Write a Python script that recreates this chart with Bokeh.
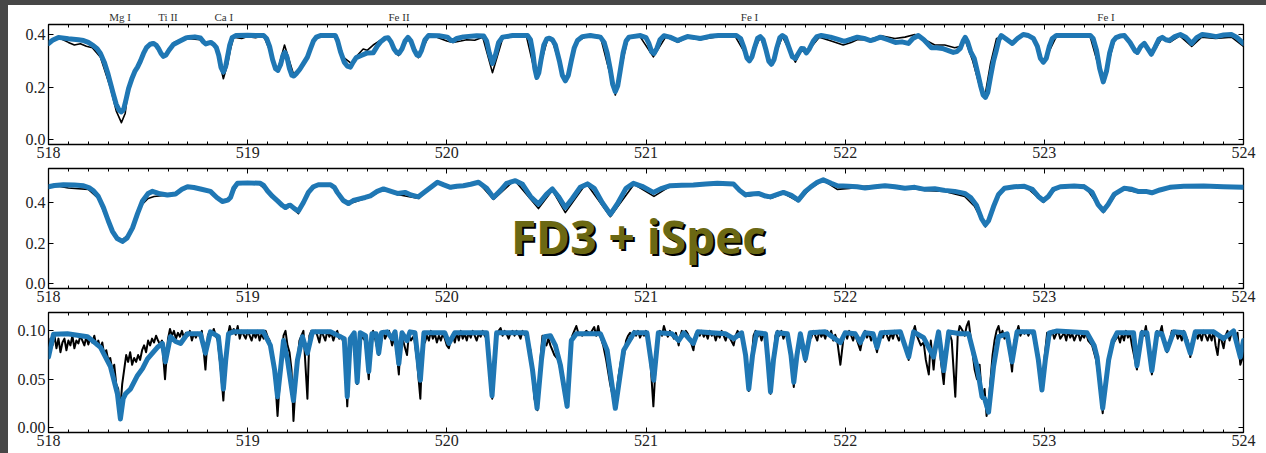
from bokeh.plotting import figure
from bokeh.layouts import column, row
from bokeh.models import Range1d, LinearAxis, FixedTicker, Label, CustomJSTickFormatter, PrintfTickFormatter, Div
from bokeh.embed import file_html
from bokeh.resources import INLINE

# ---------------- data ----------------
X_MAJOR = [518, 519, 520, 521, 522, 523, 524]
X_MINOR = [518 + i / 10 for i in range(61) if i % 10]
LINE_NAMES = ["Mg I", "Ti II", "Ca I", "Fe II", "Fe I", "Fe I"]
LINE_WL = [518.36, 518.60, 518.88, 519.76, 521.52, 523.31]

P1_YTICKS = [0.0, 0.2, 0.4]
P2_YTICKS = [0.0, 0.2, 0.4]
P3_YTICKS = [0.0, 0.05, 0.10]

P1_MODEL = [
    (518.000, 0.366), (518.020, 0.378), (518.050, 0.389), (518.100, 0.384), (518.150, 0.380),
    (518.176, 0.377), (518.200, 0.370), (518.225, 0.358), (518.245, 0.345), (518.261, 0.328),
    (518.280, 0.295), (518.297, 0.255), (518.311, 0.215), (518.325, 0.175), (518.340, 0.135),
    (518.355, 0.112), (518.366, 0.106), (518.377, 0.115), (518.390, 0.155), (518.402, 0.195),
    (518.420, 0.235), (518.435, 0.262), (518.447, 0.276), (518.462, 0.300), (518.477, 0.328),
    (518.492, 0.350), (518.510, 0.363), (518.527, 0.366), (518.540, 0.360), (518.552, 0.347),
    (518.565, 0.328), (518.577, 0.317), (518.590, 0.322), (518.605, 0.340), (518.627, 0.362),
    (518.660, 0.375), (518.690, 0.387), (518.703, 0.389), (518.735, 0.391), (518.763, 0.387),
    (518.778, 0.372), (518.790, 0.364), (518.805, 0.368), (518.815, 0.370), (518.830, 0.362),
    (518.843, 0.350), (518.855, 0.320), (518.866, 0.275), (518.878, 0.257), (518.890, 0.280),
    (518.900, 0.320), (518.910, 0.360), (518.922, 0.388), (518.940, 0.396), (519.000, 0.397),
    (519.080, 0.396), (519.095, 0.385), (519.110, 0.355), (519.125, 0.305), (519.140, 0.270),
    (519.152, 0.264), (519.165, 0.285), (519.177, 0.320), (519.187, 0.332), (519.197, 0.315),
    (519.210, 0.270), (519.222, 0.245), (519.232, 0.242), (519.245, 0.252), (519.262, 0.268),
    (519.282, 0.292), (519.300, 0.314), (519.315, 0.345), (519.330, 0.375), (519.345, 0.390),
    (519.365, 0.396), (519.440, 0.396), (519.452, 0.375), (519.466, 0.335), (519.485, 0.295),
    (519.500, 0.280), (519.516, 0.276), (519.530, 0.295), (519.545, 0.312), (519.570, 0.320),
    (519.601, 0.330), (519.631, 0.331), (519.650, 0.355), (519.667, 0.372), (519.690, 0.386),
    (519.705, 0.388), (519.720, 0.372), (519.735, 0.345), (519.750, 0.330), (519.760, 0.328),
    (519.775, 0.345), (519.790, 0.375), (519.805, 0.389), (519.820, 0.375), (519.837, 0.340),
    (519.850, 0.322), (519.860, 0.320), (519.873, 0.340), (519.890, 0.380), (519.908, 0.396),
    (519.960, 0.395), (520.003, 0.390), (520.020, 0.378), (520.032, 0.376), (520.050, 0.385),
    (520.083, 0.391), (520.150, 0.395), (520.185, 0.394), (520.200, 0.375), (520.213, 0.330),
    (520.229, 0.290), (520.245, 0.325), (520.260, 0.370), (520.280, 0.390), (520.330, 0.396),
    (520.405, 0.396), (520.420, 0.380), (520.432, 0.330), (520.442, 0.270), (520.452, 0.237),
    (520.462, 0.255), (520.472, 0.300), (520.487, 0.360), (520.502, 0.383), (520.515, 0.386),
    (520.530, 0.380), (520.545, 0.360), (520.565, 0.300), (520.580, 0.245), (520.595, 0.224),
    (520.610, 0.245), (520.625, 0.300), (520.640, 0.350), (520.656, 0.377), (520.680, 0.392),
    (520.720, 0.396), (520.771, 0.390), (520.790, 0.370), (520.805, 0.330), (520.820, 0.270),
    (520.833, 0.210), (520.846, 0.183), (520.858, 0.205), (520.870, 0.260), (520.885, 0.330),
    (520.900, 0.375), (520.915, 0.390), (520.972, 0.396), (521.000, 0.388), (521.015, 0.365),
    (521.028, 0.335), (521.040, 0.328), (521.055, 0.348), (521.070, 0.380), (521.090, 0.395),
    (521.120, 0.390), (521.158, 0.377), (521.185, 0.385), (521.208, 0.392), (521.240, 0.389),
    (521.273, 0.385), (521.320, 0.393), (521.363, 0.396), (521.454, 0.396), (521.475, 0.385),
    (521.492, 0.350), (521.507, 0.310), (521.519, 0.300), (521.532, 0.315), (521.545, 0.350),
    (521.560, 0.385), (521.574, 0.392), (521.588, 0.380), (521.603, 0.340), (521.617, 0.298),
    (521.630, 0.287), (521.643, 0.305), (521.657, 0.350), (521.672, 0.388), (521.685, 0.396),
    (521.700, 0.388), (521.718, 0.350), (521.735, 0.315), (521.750, 0.309), (521.765, 0.328),
    (521.780, 0.347), (521.792, 0.346), (521.805, 0.330), (521.820, 0.345), (521.840, 0.375),
    (521.858, 0.392), (521.880, 0.396), (521.926, 0.390), (521.960, 0.382), (521.996, 0.374),
    (522.030, 0.382), (522.061, 0.390), (522.095, 0.385), (522.127, 0.377), (522.150, 0.382),
    (522.177, 0.390), (522.215, 0.380), (522.252, 0.370), (522.285, 0.372), (522.317, 0.366),
    (522.340, 0.385), (522.367, 0.396), (522.395, 0.380), (522.433, 0.350), (522.460, 0.350),
    (522.488, 0.347), (522.515, 0.340), (522.543, 0.332), (522.560, 0.335), (522.578, 0.347),
    (522.592, 0.375), (522.603, 0.389), (522.615, 0.372), (522.630, 0.335), (522.648, 0.309),
    (522.665, 0.255), (522.680, 0.205), (522.693, 0.170), (522.704, 0.161), (522.716, 0.180),
    (522.730, 0.240), (522.745, 0.300), (522.759, 0.340), (522.772, 0.380), (522.784, 0.396),
    (522.805, 0.385), (522.839, 0.366), (522.865, 0.385), (522.894, 0.400), (522.920, 0.396),
    (522.945, 0.385), (522.965, 0.355), (522.980, 0.310), (522.995, 0.295), (523.010, 0.310),
    (523.025, 0.355), (523.040, 0.385), (523.060, 0.396), (523.231, 0.396), (523.245, 0.385),
    (523.262, 0.340), (523.278, 0.270), (523.296, 0.220), (523.312, 0.260), (523.328, 0.330),
    (523.345, 0.375), (523.360, 0.388), (523.380, 0.394), (523.402, 0.396), (523.430, 0.370),
    (523.455, 0.338), (523.467, 0.332), (523.485, 0.355), (523.502, 0.366), (523.520, 0.345),
    (523.537, 0.325), (523.555, 0.350), (523.575, 0.382), (523.592, 0.389), (523.610, 0.380),
    (523.628, 0.377), (523.655, 0.392), (523.683, 0.400), (523.710, 0.390), (523.740, 0.366),
    (523.765, 0.388), (523.793, 0.400), (523.830, 0.396), (523.863, 0.392), (523.900, 0.398),
    (523.939, 0.400), (523.965, 0.390), (524.000, 0.366),
]

P1_OBS = [
    (518.00, 0.362), (518.03, 0.380), (518.06, 0.385), (518.10, 0.370), (518.13, 0.360),
    (518.16, 0.365), (518.19, 0.355), (518.22, 0.350), (518.26, 0.315), (518.31, 0.200),
    (518.34, 0.110), (518.366, 0.065), (518.385, 0.100), (518.40, 0.190), (518.45, 0.280),
    (518.48, 0.335), (518.52, 0.370), (518.55, 0.350), (518.577, 0.315), (518.60, 0.330),
    (518.63, 0.370), (518.66, 0.380), (518.70, 0.385), (518.76, 0.380), (518.79, 0.360),
    (518.81, 0.370), (518.84, 0.355), (518.86, 0.290), (518.878, 0.232), (518.90, 0.290),
    (518.914, 0.345), (518.93, 0.390), (518.97, 0.385), (519.00, 0.392), (519.04, 0.388),
    (519.08, 0.395), (519.11, 0.340), (519.15, 0.262), (519.185, 0.360), (519.23, 0.250),
    (519.265, 0.275), (519.30, 0.320), (519.34, 0.385), (519.37, 0.400), (519.44, 0.390),
    (519.47, 0.320), (519.52, 0.290), (519.55, 0.320), (519.58, 0.345), (519.60, 0.340),
    (519.63, 0.360), (519.66, 0.375), (519.70, 0.390), (519.757, 0.320), (519.81, 0.390),
    (519.857, 0.312), (519.91, 0.395), (519.95, 0.390), (520.00, 0.375), (520.03, 0.370),
    (520.07, 0.375), (520.10, 0.380), (520.14, 0.378), (520.18, 0.390), (520.229, 0.255),
    (520.28, 0.385), (520.32, 0.390), (520.40, 0.392), (520.45, 0.230), (520.505, 0.380),
    (520.53, 0.375), (520.595, 0.220), (520.656, 0.375), (520.72, 0.400), (520.77, 0.395),
    (520.846, 0.170), (520.91, 0.390), (520.97, 0.392), (521.037, 0.315), (521.10, 0.392),
    (521.16, 0.370), (521.21, 0.390), (521.27, 0.380), (521.36, 0.392), (521.45, 0.390),
    (521.519, 0.300), (521.574, 0.390), (521.63, 0.287), (521.685, 0.392), (521.75, 0.295),
    (521.78, 0.340), (521.805, 0.330), (521.87, 0.390), (521.93, 0.375), (521.99, 0.360),
    (522.03, 0.370), (522.06, 0.380), (522.12, 0.380), (522.18, 0.395), (522.25, 0.385),
    (522.30, 0.390), (522.35, 0.400), (522.40, 0.380), (522.45, 0.360), (522.50, 0.360),
    (522.55, 0.350), (522.58, 0.355), (522.60, 0.385), (522.64, 0.300), (522.68, 0.190),
    (522.704, 0.176), (522.73, 0.290), (522.76, 0.385), (522.79, 0.390), (522.84, 0.370),
    (522.89, 0.395), (522.94, 0.390), (522.995, 0.290), (523.06, 0.392), (523.23, 0.392),
    (523.296, 0.215), (523.356, 0.390), (523.40, 0.395), (523.467, 0.325), (523.50, 0.370),
    (523.537, 0.320), (523.59, 0.385), (523.63, 0.370), (523.68, 0.395), (523.74, 0.355),
    (523.79, 0.390), (523.86, 0.385), (523.94, 0.390), (524.00, 0.355),
]

P2_MODEL = [
    (518.000, 0.478), (518.030, 0.484), (518.075, 0.488), (518.130, 0.486), (518.176, 0.483),
    (518.205, 0.472), (518.226, 0.458), (518.250, 0.430), (518.276, 0.375), (518.300, 0.310),
    (518.321, 0.258), (518.345, 0.222), (518.371, 0.208), (518.395, 0.225), (518.422, 0.275),
    (518.447, 0.345), (518.472, 0.408), (518.500, 0.445), (518.522, 0.455), (518.560, 0.443),
    (518.597, 0.437), (518.638, 0.442), (518.670, 0.465), (518.698, 0.478), (518.730, 0.474),
    (518.763, 0.467), (518.813, 0.455), (518.845, 0.425), (518.873, 0.405), (518.900, 0.412),
    (518.914, 0.425), (518.930, 0.470), (518.949, 0.495), (519.000, 0.497), (519.064, 0.495),
    (519.080, 0.485), (519.099, 0.458), (519.125, 0.430), (519.150, 0.408), (519.175, 0.385),
    (519.190, 0.375), (519.205, 0.385), (519.215, 0.386), (519.235, 0.370), (519.255, 0.358),
    (519.280, 0.400), (519.305, 0.450), (519.330, 0.478), (519.355, 0.488), (519.416, 0.488),
    (519.435, 0.475), (519.450, 0.450), (519.480, 0.410), (519.506, 0.395), (519.530, 0.410),
    (519.556, 0.417), (519.590, 0.425), (519.616, 0.433), (519.650, 0.455), (519.682, 0.467),
    (519.720, 0.455), (519.752, 0.445), (519.790, 0.450), (519.820, 0.437), (519.857, 0.428),
    (519.900, 0.460), (519.953, 0.500), (519.985, 0.487), (520.018, 0.475), (520.050, 0.480),
    (520.083, 0.483), (520.120, 0.490), (520.159, 0.500), (520.200, 0.470), (520.234, 0.425),
    (520.270, 0.460), (520.300, 0.495), (520.344, 0.508), (520.380, 0.490), (520.420, 0.430),
    (520.460, 0.392), (520.500, 0.440), (520.530, 0.467), (520.560, 0.430), (520.595, 0.375),
    (520.630, 0.420), (520.670, 0.475), (520.706, 0.492), (520.740, 0.470), (520.780, 0.400),
    (520.821, 0.342), (520.860, 0.400), (520.900, 0.470), (520.937, 0.495), (520.980, 0.480),
    (521.037, 0.450), (521.080, 0.470), (521.122, 0.483), (521.180, 0.485), (521.238, 0.487),
    (521.300, 0.492), (521.358, 0.495), (521.439, 0.492), (521.470, 0.460), (521.499, 0.438),
    (521.530, 0.442), (521.564, 0.445), (521.600, 0.432), (521.625, 0.428), (521.660, 0.440),
    (521.690, 0.450), (521.730, 0.435), (521.765, 0.412), (521.800, 0.455), (521.825, 0.475),
    (521.860, 0.500), (521.890, 0.512), (521.930, 0.495), (521.961, 0.483), (522.016, 0.480),
    (522.060, 0.478), (522.100, 0.472), (522.150, 0.478), (522.200, 0.483), (522.250, 0.478),
    (522.300, 0.470), (522.350, 0.475), (522.400, 0.465), (522.450, 0.468), (522.500, 0.460),
    (522.550, 0.455), (522.600, 0.445), (522.630, 0.425), (522.660, 0.385), (522.685, 0.320),
    (522.704, 0.290), (522.720, 0.310), (522.745, 0.380), (522.770, 0.440), (522.800, 0.470),
    (522.850, 0.478), (522.900, 0.480), (522.940, 0.465), (522.970, 0.430), (522.995, 0.410),
    (523.020, 0.430), (523.045, 0.465), (523.080, 0.478), (523.150, 0.482), (523.200, 0.478),
    (523.240, 0.450), (523.270, 0.390), (523.296, 0.360), (523.320, 0.390), (523.350, 0.440),
    (523.400, 0.470), (523.440, 0.465), (523.470, 0.455), (523.510, 0.455), (523.540, 0.448),
    (523.580, 0.462), (523.630, 0.475), (523.700, 0.480), (523.800, 0.482), (523.900, 0.478),
    (524.000, 0.475),
]

P2_OBS = [
    (518.00, 0.475), (518.05, 0.480), (518.10, 0.472), (518.15, 0.468), (518.20, 0.465),
    (518.25, 0.420), (518.30, 0.300), (518.34, 0.225), (518.37, 0.215), (518.40, 0.240),
    (518.43, 0.300), (518.47, 0.390), (518.50, 0.420), (518.53, 0.430), (518.58, 0.435),
    (518.62, 0.440), (518.66, 0.460), (518.70, 0.475), (518.76, 0.465), (518.81, 0.455),
    (518.87, 0.400), (518.91, 0.420), (518.95, 0.490), (519.00, 0.495), (519.06, 0.490),
    (519.10, 0.455), (519.15, 0.400), (519.19, 0.370), (519.215, 0.380), (519.255, 0.345),
    (519.30, 0.445), (519.35, 0.485), (519.42, 0.490), (519.45, 0.445), (519.50, 0.390),
    (519.56, 0.410), (519.62, 0.430), (519.68, 0.465), (519.75, 0.440), (519.86, 0.420),
    (519.95, 0.505), (520.02, 0.470), (520.08, 0.480), (520.16, 0.498), (520.234, 0.415),
    (520.34, 0.510), (520.46, 0.370), (520.53, 0.460), (520.595, 0.350), (520.70, 0.495),
    (520.821, 0.330), (520.94, 0.490), (521.04, 0.430), (521.12, 0.480), (521.24, 0.485),
    (521.36, 0.490), (521.44, 0.485), (521.50, 0.430), (521.56, 0.440), (521.625, 0.420),
    (521.69, 0.445), (521.765, 0.405), (521.825, 0.470), (521.89, 0.510), (521.96, 0.465),
    (522.02, 0.470), (522.10, 0.480), (522.20, 0.485), (522.30, 0.475), (522.40, 0.460),
    (522.50, 0.455), (522.60, 0.430), (522.65, 0.380), (522.704, 0.280), (522.75, 0.400),
    (522.80, 0.470), (522.90, 0.485), (522.995, 0.400), (523.06, 0.470), (523.20, 0.485),
    (523.296, 0.350), (523.36, 0.440), (523.40, 0.465), (523.47, 0.450), (523.54, 0.445),
    (523.63, 0.470), (523.80, 0.485), (524.00, 0.470),
]

P3_MODEL = [
    (518.000, 0.073), (518.025, 0.0966), (518.095, 0.097), (518.196, 0.094), (518.261, 0.083),
    (518.311, 0.063), (518.346, 0.035), (518.361, 0.009), (518.375, 0.030), (518.387, 0.035),
    (518.412, 0.040), (518.447, 0.054), (518.472, 0.061), (518.497, 0.071), (518.547, 0.083),
    (518.572, 0.087), (518.587, 0.068), (518.612, 0.094), (518.638, 0.089), (518.663, 0.087),
    (518.698, 0.097), (518.763, 0.097), (518.788, 0.077), (518.813, 0.099), (518.853, 0.094),
    (518.866, 0.070), (518.878, 0.040), (518.890, 0.070), (518.904, 0.097), (518.929, 0.099),
    (519.079, 0.099), (519.114, 0.085), (519.135, 0.060), (519.150, 0.032), (519.165, 0.060),
    (519.180, 0.090), (519.200, 0.070), (519.230, 0.028), (519.250, 0.070), (519.275, 0.094),
    (519.300, 0.077), (519.325, 0.099), (519.416, 0.099), (519.485, 0.092), (519.500, 0.032),
    (519.515, 0.092), (519.535, 0.098), (519.550, 0.047), (519.565, 0.098), (519.592, 0.095),
    (519.608, 0.058), (519.624, 0.097), (519.645, 0.097), (519.658, 0.077), (519.672, 0.098),
    (519.700, 0.099), (519.725, 0.092), (519.740, 0.099), (519.759, 0.066), (519.775, 0.098),
    (519.800, 0.090), (519.815, 0.099), (519.840, 0.098), (519.867, 0.049), (519.885, 0.098),
    (519.990, 0.098), (520.010, 0.087), (520.040, 0.098), (520.200, 0.098), (520.227, 0.033),
    (520.250, 0.098), (520.400, 0.098), (520.430, 0.060), (520.453, 0.020), (520.475, 0.070),
    (520.490, 0.094), (520.520, 0.095), (520.545, 0.085), (520.570, 0.065), (520.604, 0.022),
    (520.625, 0.090), (520.650, 0.097), (520.771, 0.097), (520.805, 0.080), (520.846, 0.020),
    (520.888, 0.080), (520.940, 0.098), (521.005, 0.098), (521.039, 0.049), (521.062, 0.098),
    (521.130, 0.097), (521.164, 0.090), (521.190, 0.098), (521.238, 0.087), (521.260, 0.099),
    (521.400, 0.097), (521.440, 0.092), (521.480, 0.098), (521.500, 0.075), (521.516, 0.040),
    (521.535, 0.075), (521.555, 0.098), (521.600, 0.097), (521.612, 0.070), (521.625, 0.037),
    (521.640, 0.070), (521.660, 0.098), (521.710, 0.097), (521.728, 0.075), (521.742, 0.047),
    (521.758, 0.075), (521.775, 0.097), (521.800, 0.071), (521.825, 0.098), (521.900, 0.099),
    (521.976, 0.088), (522.000, 0.098), (522.050, 0.097), (522.076, 0.088), (522.100, 0.098),
    (522.140, 0.097), (522.160, 0.083), (522.180, 0.098), (522.277, 0.099), (522.319, 0.073),
    (522.344, 0.099), (522.394, 0.093), (522.444, 0.073), (522.469, 0.099), (522.495, 0.059),
    (522.520, 0.099), (522.578, 0.097), (522.620, 0.097), (522.662, 0.063), (522.687, 0.032),
    (522.700, 0.030), (522.720, 0.016), (522.745, 0.063), (522.770, 0.094), (522.813, 0.097),
    (522.838, 0.068), (522.863, 0.099), (522.946, 0.099), (522.970, 0.070), (522.988, 0.039),
    (523.005, 0.070), (523.025, 0.098), (523.064, 0.100), (523.214, 0.098), (523.250, 0.085),
    (523.265, 0.073), (523.293, 0.020), (523.323, 0.070), (523.345, 0.090), (523.365, 0.098),
    (523.448, 0.098), (523.465, 0.064), (523.490, 0.098), (523.515, 0.098), (523.540, 0.059),
    (523.566, 0.098), (523.590, 0.097), (523.616, 0.080), (523.649, 0.099), (523.700, 0.098),
    (523.733, 0.077), (523.758, 0.099), (523.850, 0.099), (523.900, 0.092), (523.950, 0.100),
    (523.984, 0.073), (524.000, 0.090),
]

P3_OBS = [
    (518.00, 0.072), (518.01, 0.092), (518.02, 0.085), (518.03, 0.095), (518.04, 0.082),
    (518.05, 0.092), (518.06, 0.078), (518.07, 0.088), (518.08, 0.092), (518.09, 0.080),
    (518.10, 0.090), (518.11, 0.085), (518.12, 0.095), (518.13, 0.082), (518.14, 0.090),
    (518.15, 0.087), (518.16, 0.095), (518.17, 0.090), (518.18, 0.085), (518.19, 0.094),
    (518.20, 0.086), (518.21, 0.093), (518.22, 0.088), (518.23, 0.095), (518.24, 0.085),
    (518.25, 0.090), (518.26, 0.082), (518.27, 0.088), (518.28, 0.075), (518.29, 0.080),
    (518.30, 0.070), (518.31, 0.072), (518.32, 0.060), (518.33, 0.065), (518.34, 0.045),
    (518.35, 0.040), (518.36, 0.018), (518.37, 0.045), (518.38, 0.060), (518.39, 0.075),
    (518.40, 0.068), (518.41, 0.078), (518.42, 0.065), (518.43, 0.072), (518.44, 0.068),
    (518.45, 0.075), (518.46, 0.070), (518.47, 0.080), (518.48, 0.085), (518.49, 0.078),
    (518.50, 0.090), (518.51, 0.085), (518.52, 0.092), (518.53, 0.088), (518.54, 0.095),
    (518.55, 0.090), (518.56, 0.086), (518.57, 0.090), (518.585, 0.050), (518.60, 0.092),
    (518.61, 0.102), (518.62, 0.095), (518.63, 0.100), (518.64, 0.092), (518.65, 0.098),
    (518.66, 0.094), (518.67, 0.100), (518.68, 0.093), (518.69, 0.098), (518.70, 0.095),
    (518.71, 0.100), (518.72, 0.090), (518.73, 0.097), (518.74, 0.093), (518.75, 0.098),
    (518.76, 0.094), (518.77, 0.100), (518.788, 0.060), (518.80, 0.095), (518.81, 0.100),
    (518.82, 0.097), (518.83, 0.102), (518.84, 0.095), (518.85, 0.090), (518.865, 0.060),
    (518.878, 0.028), (518.89, 0.070), (518.90, 0.095), (518.91, 0.105), (518.92, 0.098),
    (518.93, 0.102), (518.94, 0.096), (518.95, 0.105), (518.96, 0.092), (518.97, 0.100),
    (518.98, 0.096), (518.99, 0.092), (519.00, 0.100), (519.01, 0.095), (519.02, 0.090),
    (519.03, 0.098), (519.04, 0.093), (519.05, 0.100), (519.06, 0.090), (519.07, 0.097),
    (519.08, 0.092), (519.09, 0.100), (519.10, 0.094), (519.11, 0.090), (519.12, 0.080),
    (519.135, 0.060), (519.15, 0.012), (519.165, 0.060), (519.18, 0.095), (519.19, 0.100),
    (519.20, 0.085), (519.21, 0.078), (519.22, 0.060), (519.23, 0.007), (519.245, 0.060),
    (519.26, 0.090), (519.27, 0.095), (519.28, 0.100), (519.30, 0.030), (519.31, 0.095),
    (519.32, 0.100), (519.33, 0.097), (519.34, 0.100), (519.35, 0.095), (519.36, 0.088),
    (519.37, 0.100), (519.38, 0.095), (519.39, 0.090), (519.40, 0.100), (519.41, 0.094),
    (519.42, 0.098), (519.43, 0.090), (519.44, 0.096), (519.45, 0.100), (519.46, 0.092),
    (519.47, 0.095), (519.485, 0.085), (519.50, 0.022), (519.515, 0.085), (519.53, 0.098),
    (519.54, 0.090), (519.55, 0.045), (519.56, 0.080), (519.57, 0.098), (519.58, 0.092),
    (519.59, 0.090), (519.608, 0.050), (519.62, 0.095), (519.63, 0.100), (519.64, 0.092),
    (519.658, 0.075), (519.67, 0.098), (519.68, 0.100), (519.69, 0.092), (519.70, 0.097),
    (519.71, 0.100), (519.725, 0.085), (519.74, 0.095), (519.759, 0.055), (519.77, 0.095),
    (519.78, 0.090), (519.80, 0.075), (519.81, 0.098), (519.82, 0.090), (519.835, 0.095),
    (519.85, 0.070), (519.867, 0.030), (519.88, 0.095), (519.89, 0.088), (519.90, 0.095),
    (519.91, 0.090), (519.92, 0.100), (519.93, 0.092), (519.94, 0.097), (519.95, 0.088),
    (519.96, 0.095), (519.97, 0.090), (519.98, 0.097), (519.99, 0.092), (520.00, 0.085),
    (520.01, 0.082), (520.02, 0.090), (520.03, 0.095), (520.04, 0.088), (520.05, 0.098),
    (520.06, 0.090), (520.07, 0.100), (520.08, 0.092), (520.09, 0.097), (520.10, 0.090),
    (520.11, 0.098), (520.12, 0.093), (520.13, 0.100), (520.14, 0.095), (520.15, 0.090),
    (520.16, 0.097), (520.17, 0.094), (520.18, 0.100), (520.19, 0.095), (520.20, 0.092),
    (520.215, 0.060), (520.228, 0.030), (520.24, 0.070), (520.25, 0.095), (520.26, 0.100),
    (520.27, 0.103), (520.28, 0.095), (520.29, 0.100), (520.30, 0.097), (520.31, 0.092),
    (520.32, 0.098), (520.33, 0.100), (520.34, 0.095), (520.35, 0.100), (520.36, 0.097),
    (520.37, 0.092), (520.38, 0.100), (520.39, 0.096), (520.40, 0.095), (520.42, 0.080),
    (520.44, 0.030), (520.455, 0.018), (520.47, 0.070), (520.48, 0.095), (520.49, 0.088),
    (520.50, 0.085), (520.51, 0.092), (520.52, 0.085), (520.53, 0.080), (520.54, 0.075),
    (520.56, 0.070), (520.58, 0.050), (520.604, 0.022), (520.62, 0.070), (520.63, 0.095),
    (520.64, 0.100), (520.65, 0.105), (520.66, 0.098), (520.68, 0.095), (520.70, 0.100),
    (520.72, 0.097), (520.74, 0.104), (520.75, 0.095), (520.76, 0.105), (520.77, 0.095),
    (520.785, 0.085), (520.80, 0.070), (520.82, 0.045), (520.846, 0.020), (520.86, 0.050),
    (520.875, 0.070), (520.89, 0.075), (520.90, 0.090), (520.91, 0.095), (520.92, 0.098),
    (520.93, 0.092), (520.94, 0.100), (520.95, 0.095), (520.96, 0.100), (520.97, 0.093),
    (520.98, 0.098), (520.99, 0.095), (521.00, 0.100), (521.015, 0.090), (521.025, 0.060),
    (521.037, 0.022), (521.05, 0.070), (521.06, 0.098), (521.07, 0.100), (521.08, 0.095),
    (521.09, 0.105), (521.10, 0.098), (521.11, 0.094), (521.12, 0.100), (521.13, 0.096),
    (521.14, 0.092), (521.15, 0.098), (521.164, 0.085), (521.17, 0.093), (521.18, 0.100),
    (521.19, 0.095), (521.20, 0.100), (521.21, 0.097), (521.22, 0.092), (521.238, 0.080),
    (521.25, 0.097), (521.26, 0.100), (521.27, 0.095), (521.28, 0.100), (521.29, 0.094),
    (521.30, 0.098), (521.31, 0.092), (521.32, 0.100), (521.33, 0.095), (521.34, 0.098),
    (521.35, 0.090), (521.36, 0.097), (521.37, 0.093), (521.38, 0.100), (521.39, 0.095),
    (521.40, 0.090), (521.41, 0.097), (521.42, 0.093), (521.44, 0.085), (521.45, 0.095),
    (521.46, 0.100), (521.47, 0.096), (521.48, 0.098), (521.50, 0.070), (521.516, 0.038),
    (521.53, 0.070), (521.54, 0.095), (521.55, 0.100), (521.56, 0.094), (521.57, 0.098),
    (521.58, 0.090), (521.59, 0.097), (521.60, 0.090), (521.612, 0.070), (521.625, 0.035),
    (521.64, 0.070), (521.65, 0.095), (521.66, 0.100), (521.67, 0.095), (521.68, 0.100),
    (521.69, 0.092), (521.70, 0.097), (521.71, 0.093), (521.725, 0.080), (521.742, 0.042),
    (521.755, 0.075), (521.77, 0.095), (521.78, 0.090), (521.80, 0.068), (521.81, 0.085),
    (521.82, 0.098), (521.83, 0.093), (521.84, 0.100), (521.85, 0.095), (521.86, 0.090),
    (521.87, 0.100), (521.88, 0.094), (521.89, 0.098), (521.90, 0.092), (521.91, 0.100),
    (521.92, 0.095), (521.93, 0.100), (521.94, 0.090), (521.95, 0.096), (521.96, 0.090),
    (521.976, 0.065), (521.99, 0.090), (522.00, 0.098), (522.01, 0.092), (522.02, 0.100),
    (522.03, 0.095), (522.04, 0.090), (522.05, 0.098), (522.06, 0.090), (522.076, 0.080),
    (522.09, 0.095), (522.10, 0.100), (522.11, 0.093), (522.12, 0.098), (522.13, 0.090),
    (522.14, 0.095), (522.16, 0.078), (522.17, 0.090), (522.18, 0.098), (522.19, 0.093),
    (522.20, 0.100), (522.21, 0.095), (522.22, 0.090), (522.23, 0.098), (522.24, 0.092),
    (522.25, 0.100), (522.26, 0.095), (522.27, 0.090), (522.28, 0.097), (522.29, 0.090),
    (522.30, 0.085), (522.319, 0.070), (522.33, 0.085), (522.34, 0.098), (522.35, 0.105),
    (522.36, 0.095), (522.37, 0.090), (522.38, 0.085), (522.394, 0.088), (522.405, 0.070),
    (522.42, 0.055), (522.43, 0.090), (522.444, 0.060), (522.455, 0.085), (522.47, 0.095),
    (522.48, 0.070), (522.495, 0.045), (522.51, 0.090), (522.52, 0.100), (522.535, 0.090),
    (522.553, 0.032), (522.565, 0.095), (522.575, 0.105), (522.59, 0.100), (522.60, 0.095),
    (522.61, 0.105), (522.62, 0.110), (522.635, 0.085), (522.65, 0.060), (522.662, 0.050),
    (522.675, 0.065), (522.687, 0.030), (522.70, 0.040), (522.71, 0.012), (522.72, 0.025),
    (522.73, 0.050), (522.74, 0.075), (522.75, 0.090), (522.76, 0.100), (522.77, 0.105),
    (522.78, 0.095), (522.79, 0.100), (522.80, 0.092), (522.813, 0.095), (522.825, 0.080),
    (522.838, 0.058), (522.85, 0.090), (522.863, 0.100), (522.87, 0.105), (522.88, 0.095),
    (522.89, 0.100), (522.90, 0.097), (522.91, 0.100), (522.92, 0.095), (522.93, 0.100),
    (522.94, 0.097), (522.955, 0.090), (522.97, 0.070), (522.988, 0.040), (523.00, 0.070),
    (523.014, 0.098), (523.03, 0.095), (523.04, 0.100), (523.05, 0.092), (523.06, 0.097),
    (523.07, 0.100), (523.08, 0.092), (523.09, 0.095), (523.10, 0.098), (523.11, 0.090),
    (523.12, 0.100), (523.13, 0.093), (523.14, 0.097), (523.15, 0.090), (523.16, 0.095),
    (523.17, 0.098), (523.18, 0.090), (523.19, 0.096), (523.20, 0.093), (523.21, 0.098),
    (523.22, 0.090), (523.24, 0.085), (523.26, 0.070), (523.275, 0.050), (523.293, 0.015),
    (523.31, 0.050), (523.325, 0.070), (523.34, 0.085), (523.355, 0.090), (523.37, 0.095),
    (523.38, 0.088), (523.39, 0.097), (523.40, 0.090), (523.41, 0.100), (523.42, 0.093),
    (523.43, 0.097), (523.44, 0.085), (523.465, 0.060), (523.48, 0.092), (523.49, 0.100),
    (523.50, 0.095), (523.51, 0.105), (523.52, 0.090), (523.54, 0.055), (523.555, 0.085),
    (523.566, 0.100), (523.575, 0.095), (523.59, 0.105), (523.60, 0.090), (523.616, 0.078),
    (523.63, 0.090), (523.64, 0.100), (523.65, 0.095), (523.66, 0.100), (523.67, 0.092),
    (523.68, 0.097), (523.69, 0.090), (523.70, 0.100), (523.71, 0.095), (523.72, 0.090),
    (523.733, 0.073), (523.745, 0.090), (523.758, 0.100), (523.77, 0.092), (523.78, 0.098),
    (523.79, 0.090), (523.80, 0.100), (523.81, 0.095), (523.82, 0.090), (523.83, 0.097),
    (523.84, 0.090), (523.85, 0.100), (523.86, 0.085), (523.87, 0.075), (523.88, 0.095),
    (523.89, 0.090), (523.90, 0.082), (523.91, 0.095), (523.92, 0.100), (523.93, 0.090),
    (523.94, 0.098), (523.95, 0.100), (523.96, 0.095), (523.97, 0.098), (523.984, 0.065),
    (524.00, 0.075),
]

# ---------------- styling ----------------
BLUE = "#1f77b4"
SERIF = "Liberation Serif"
TICK_COLOR = "#222222"
DARK = "#474747"


def styled_axis(ticker, formatter, standoff):
    ax = LinearAxis(ticker=ticker, formatter=formatter)
    ax.axis_line_color = None
    ax.major_tick_in = 5
    ax.major_tick_out = 0
    ax.minor_tick_in = 3
    ax.minor_tick_out = 0
    ax.major_tick_line_color = "black"
    ax.minor_tick_line_color = "black"
    ax.major_label_text_font = SERIF
    ax.major_label_text_font_size = "16px"
    ax.major_label_text_color = TICK_COLOR
    ax.major_label_standoff = standoff
    return ax


def make_panel(y_range, yticks, yfmt, model, model_w, obs, obs_w, border_top, height):
    p = figure(width=1258, height=height, output_backend="svg", toolbar_location=None,
               x_range=Range1d(518, 524), y_range=Range1d(*y_range),
               x_axis_location=None, y_axis_location=None,
               min_border_left=40, min_border_right=23,
               min_border_top=border_top, min_border_bottom=21)
    p.title.visible = False
    p.background_fill_color = "white"
    p.border_fill_color = "white"
    p.outline_line_color = "black"
    p.outline_line_width = 1.3
    p.grid.visible = False
    p.margin = 0
    xt = FixedTicker(ticks=X_MAJOR, minor_ticks=X_MINOR)
    yt = FixedTicker(ticks=yticks, minor_ticks=[])
    empty = CustomJSTickFormatter(code="return ''")
    p.add_layout(styled_axis(xt, PrintfTickFormatter(format="%d"), 2), "below")
    p.add_layout(styled_axis(xt, empty, 0), "above")
    p.add_layout(styled_axis(yt, PrintfTickFormatter(format=yfmt), 3), "left")
    p.add_layout(styled_axis(yt, empty, 0), "right")
    p.line([w for w, f in obs], [f for w, f in obs], line_color="black", line_width=obs_w,
           line_join="round")
    p.line([w for w, f in model], [f for w, f in model], line_color=BLUE, line_width=model_w,
           line_join="round", line_cap="round")
    return p


p1 = make_panel((-0.018, 0.438), P1_YTICKS, "%.1f", P1_MODEL, 5, P1_OBS, 1.6, 19, 160)
p2 = make_panel((-0.0247, 0.568), P2_YTICKS, "%.1f", P2_MODEL, 5, P2_OBS, 1.6, 3, 144)
p3 = make_panel((-0.005, 0.119), P3_YTICKS, "%.2f", P3_MODEL, 5, P3_OBS, 2.0, 3, 144)

# spectral line identifications above the first panel
names_axis = LinearAxis(ticker=FixedTicker(ticks=LINE_WL, minor_ticks=[]),
                        formatter=CustomJSTickFormatter(args=dict(names=LINE_NAMES),
                                                        code="return names[index]"))
names_axis.axis_line_color = None
names_axis.major_tick_line_color = None
names_axis.minor_tick_line_color = None
names_axis.major_tick_in = 0
names_axis.major_tick_out = 0
names_axis.major_label_standoff = 2
names_axis.major_label_text_font = SERIF
names_axis.major_label_text_font_size = "11px"
names_axis.major_label_text_color = "#333333"
p1.add_layout(names_axis, "above")

for dx, dy, col in [(2, -2, "black"), (0, 0, "#6b6813")]:
    p2.add_layout(Label(x=520.962, y=0.237, x_offset=dx, y_offset=dy, text="FD3 + iSpec",
                        text_font="Open Sans", text_font_style="bold", text_font_size="46px",
                        text_color=col, text_align="center", text_baseline="middle"))

top_strip = Div(text="", width=1266, height=5, margin=0, styles={"background-color": DARK})
left_strip = Div(text="", width=8, height=448, margin=0, styles={"background-color": DARK})
panels = column(p1, p2, p3, spacing=0, margin=0, styles={"background-color": "white"})
layout = column(top_strip, row(left_strip, panels, spacing=0, margin=0), spacing=0, margin=0,
                styles={"background-color": "white"})

open("out.html", "w").write(file_html(layout, INLINE))
